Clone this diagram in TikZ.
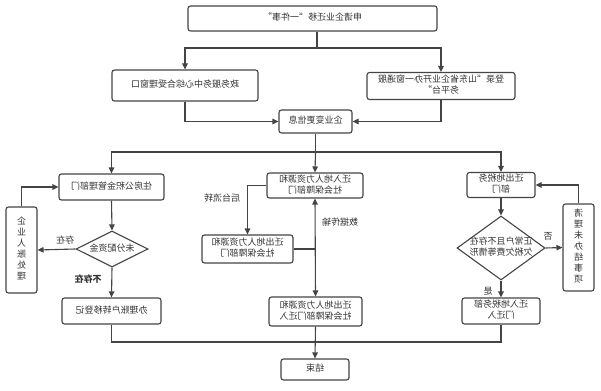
\documentclass[tikz,border=0pt]{standalone}
\usepackage{fontspec}
\usepackage{graphicx}
\newfontfamily\cjk{Noto Sans CJK SC}
\usetikzlibrary{arrows.meta,shapes.geometric}
\definecolor{ln}{HTML}{444444}
\definecolor{txt}{HTML}{333333}
\newcommand\mir[1]{\reflectbox{\begin{tabular}{@{}c@{}}#1\end{tabular}}}
\begin{document}
\begin{tikzpicture}[x=1pt,y=-1pt,
  font=\cjk\fontsize{9}{11}\selectfont, text=txt,
  box/.style={draw=ln, line width=1.1pt, rounded corners=2.5pt, fill=white, inner sep=0pt},
  dia/.style={draw=ln, shape=diamond, line width=1.1pt, fill=white},
  wire/.style={draw=ln, line width=1.1pt},
  conn/.style={draw=ln, line width=1.1pt, -{Triangle[length=6pt,width=5.5pt]}},
  lbl/.style={inner sep=0pt}]
\useasboundingbox (0,0) rectangle (601,390);
% nodes
\node[box, minimum width=249pt, minimum height=25pt] (top) at (312.5,18.5) {\mir{申请企业迁移“一件事”}};
\node[box, minimum width=146pt, minimum height=31pt] (gov) at (185,85.5) {\mir{政务服务中心综合受理窗口}};
\node[box, minimum width=148pt, minimum height=27pt] (login) at (441,86) {\mir{登录“山东省企业开办一窗通服\\务平台”}};
\node[box, minimum width=73pt, minimum height=23pt] (info) at (315.5,121.5) {\mir{企业变更信息}};
% left column
\node[box, minimum width=105pt, minimum height=26pt] (hf) at (111.5,187) {\mir{住房公积金管理部门}};
\node[dia, minimum width=72pt, minimum height=36pt, inner sep=0pt, aspect=2] (d1) at (112,249) {\mir{未分配资金}};
\node[box, minimum width=31pt, minimum height=86pt] (acct) at (21.5,250) {\mir{企\\业\\人\\账\\处\\理}};
\node[box, minimum width=99pt, minimum height=26pt] (reg) at (111.5,311) {\mir{办理账户转移登记}};
% middle column
\node[box, minimum width=96pt, minimum height=25pt] (hrin) at (315,185.5) {\mir{迁入地人力资源和\\社会保障部门}};
\node[box, minimum width=91pt, minimum height=28pt] (hrout) at (247.5,249) {\mir{迁出地人力资源和\\社会保障部门}};
\node[box, minimum width=93pt, minimum height=29pt] (hrout2) at (315.5,311.5) {\mir{迁出地人力资源和\\社会保障部门迁入}};
\node[box, minimum width=68pt, minimum height=21pt] (end) at (315,369.5) {\mir{结束}};
% right column
\node[box, minimum width=68pt, minimum height=25pt] (taxout) at (501,185) {\mir{迁出地税务\\部门}};
\node[dia, minimum width=88pt, minimum height=64pt, inner sep=-2pt, aspect=1.375] (d2) at (501,248) {\mir{正常户且不存在\\欠税欠费等情形}};
\node[box, minimum width=31pt, minimum height=87pt] (clean) at (578.5,247.5) {\mir{清\\理\\未\\办\\结\\事\\项}};
\node[box, minimum width=78pt, minimum height=26pt] (taxin) at (501,311) {\mir{迁入地税务部\\门迁入}};
% labels
\node[lbl] (l1) at (65,241) {\mir{存在}};
\node[lbl] (l2) at (88,280) {\mir{\bfseries 不存在}};
\node[lbl] (l3) at (222,199) {\mir{后台流转}};
\node[lbl] (l4) at (340,223) {\mir{数据传输}};
\node[lbl] (l5) at (548,237) {\mir{否}};
\node[lbl] (l6) at (488,292) {\mir{是}};
% junctions
\coordinate (j1) at (317,48);
\coordinate (j2) at (315.5,152);
\coordinate (j3) at (315,342);
% connectors
\draw[wire] (top.south -| j1) -- (j1);
\draw[conn] (j1) -| (gov.north);
\draw[conn] (j1) -| (login.north);
\draw[conn] (gov.south) |- (info.west);
\draw[conn] (login.south) |- (info.east);
\draw[wire] (info.south) -- (j2);
\draw[conn] (j2) -| (hf.north);
\draw[conn] (j2) -- (hrin.north);
\draw[conn] (j2) -| (taxout.north);
% left
\draw[conn] (hf.south) -- (d1.north);
\draw[conn] (d1.west) -- (acct.east);
\draw[conn] (acct.north) |- (hf.west);
\draw[conn] (d1.south) -- (reg.north);
% middle
\draw[conn] (hrin.west) -| (hrout.north);
\draw[conn, {Triangle[length=6pt,width=5.5pt]}-{Triangle[length=6pt,width=5.5pt]}] (hrin.south) -- (hrout2.north);
\draw[wire] (hrout.east) -- (hrout.east -| hrin.south);
\draw[conn] (hrout2.south) -- (end.north);
% right
\draw[conn] (taxout.south) -- (d2.north);
\draw[conn] (d2.east) -- (clean.west);
\draw[conn] (clean.north) |- (taxout.east);
\draw[conn] (d2.south) -- (taxin.north);
% bottom joins
\draw[wire] (reg.south) |- (j3);
\draw[wire] (taxin.south) |- (j3);
\end{tikzpicture}
\end{document}
